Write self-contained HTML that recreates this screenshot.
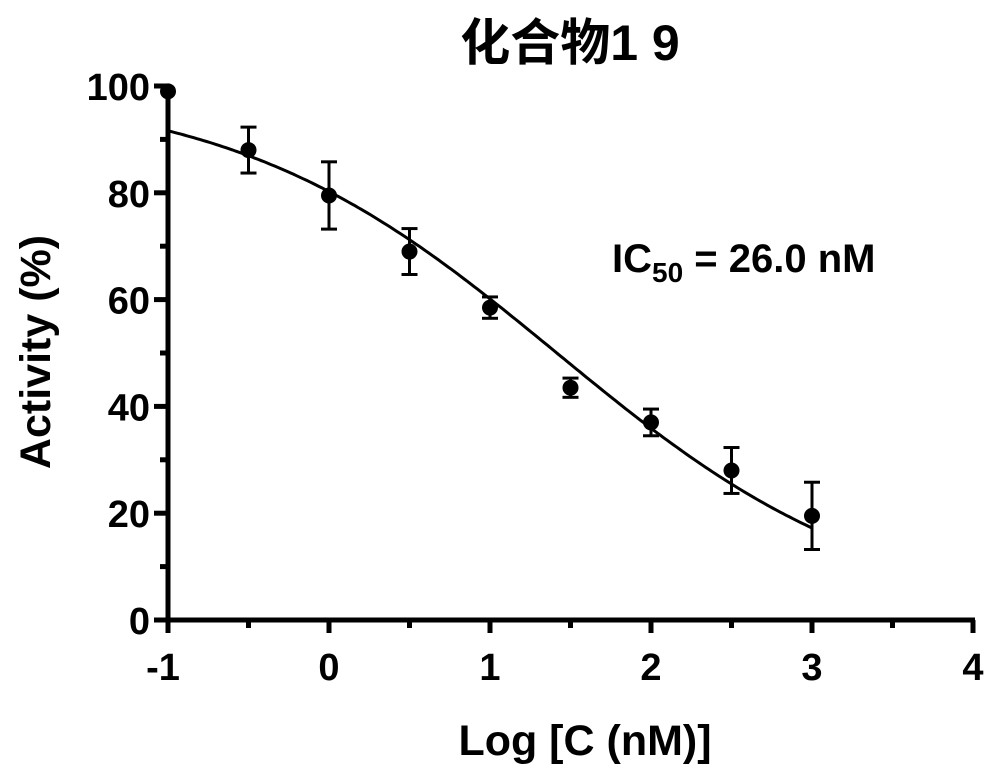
<!DOCTYPE html>
<html><head><meta charset="utf-8"><style>
body{margin:0;background:#fff;}
svg{display:block;font-family:"Liberation Sans","Noto Sans CJK SC",sans-serif;font-weight:bold;}
</style></head><body>
<svg id="s" width="1000" height="778" viewBox="0 0 1000 778">
<text x="570" y="60" font-size="50" text-anchor="middle" fill="#000">化合物1 9</text>
<g stroke="#000" stroke-width="5" fill="none" id="ax">
<line x1="168" y1="84" x2="168" y2="622"/>
<line x1="166" y1="620" x2="975" y2="620"/>
</g>
<g font-size="38" fill="#000" id="lab"></g>
<text x="612" y="272" font-size="40" fill="#000">IC<tspan font-size="28" dy="10">50</tspan><tspan dy="-10"> = 26.0 nM</tspan></text>
<text x="585" y="755" font-size="43" text-anchor="middle" fill="#000">Log [C (nM)]</text>
<text transform="translate(50,352) rotate(-90)" font-size="43" text-anchor="middle" fill="#000">Activity (%)</text>
<path id="curve" stroke="#000" stroke-width="3" fill="none"/>
<g id="pts"></g>
</svg>
<script>
var NS="http://www.w3.org/2000/svg";
function X(v){return 168+(v+1)*161;}
function Y(v){return 620-v*5.34;}
function el(t,a,p){var e=document.createElementNS(NS,t);for(var k in a)e.setAttribute(k,a[k]);(p||document.getElementById('s')).appendChild(e);return e;}
var ax=document.getElementById('ax'),lab=document.getElementById('lab');
for(var i=-1;i<=4;i++){el('line',{x1:X(i),y1:620,x2:X(i),y2:633},ax);var t=el('text',{x:X(i)-(i<0?5:0),y:680,'text-anchor':'middle'},lab);t.textContent=i;
 if(i<4)el('line',{x1:X(i+0.5),y1:620,x2:X(i+0.5),y2:628},ax);}
for(var v=0;v<=100;v+=10){var maj=v%20==0;el('line',{x1:maj?154:160,y1:Y(v),x2:168,y2:Y(v)},ax);
 if(maj){var t=el('text',{x:150,y:Y(v)+14,'text-anchor':'end'},lab);t.textContent=v;}}
var d="";for(var x=-1;x<=3.0001;x+=0.02){var y=100/(1+Math.pow(10,(x-1.415)*0.43));d+=(d?"L":"M")+X(x).toFixed(1)+" "+Y(y).toFixed(1);}
document.getElementById('curve').setAttribute('d',d);
var data=[[-1,99,0],[-0.5,88,4.3],[0,79.5,6.3],[0.5,69,4.3],[1,58.5,2],[1.5,43.5,1.8],[2,37,2.5],[2.5,28,4.3],[3,19.5,6.3]];
var g=document.getElementById('pts');
data.forEach(function(p){var cx=X(p[0]),cy=Y(p[1]);
 if(p[2]){var a=Y(p[1]+p[2]),b=Y(p[1]-p[2]);
 el('line',{x1:cx,y1:a,x2:cx,y2:b,stroke:'#000','stroke-width':3},g);
 el('line',{x1:cx-8,y1:a,x2:cx+8,y2:a,stroke:'#000','stroke-width':3},g);
 el('line',{x1:cx-8,y1:b,x2:cx+8,y2:b,stroke:'#000','stroke-width':3},g);}
 el('circle',{cx:cx,cy:cy,r:8,fill:'#000'},g);});
</script>
</body></html>
